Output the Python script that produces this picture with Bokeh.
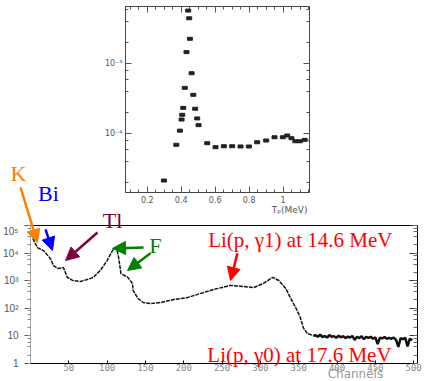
import numpy as np
from bokeh.plotting import figure
from bokeh.models import (Range1d, LinearAxis, LogAxis, FixedTicker, LogTicker,
                          CustomJSTickFormatter, Label, Arrow, NormalHead, GridBox)
from bokeh.embed import file_html
from bokeh.resources import INLINE

# ---------------- inset data: cross section vs proton energy ----------------
tp_mev = [0.298, 0.371, 0.392, 0.402, 0.406, 0.412, 0.421, 0.431, 0.441, 0.447,
          0.451, 0.461, 0.471, 0.482, 0.494, 0.502, 0.553, 0.602, 0.651, 0.700,
          0.749, 0.798, 0.847, 0.900, 0.949, 0.998, 1.024, 1.049, 1.072, 1.098, 1.127]
sigma_barn = [2.15e-5, 6.97e-5, 1.11e-4, 1.60e-4, 1.87e-4, 2.35e-4, 4.54e-4, 1.47e-3,
              5.77e-3, 4.48e-3, 2.28e-3, 7.34e-4, 3.61e-4, 2.28e-4, 1.66e-4, 1.33e-4,
              7.34e-5, 6.44e-5, 6.65e-5, 6.65e-5, 6.59e-5, 6.59e-5, 7.58e-5, 8.02e-5,
              8.93e-5, 8.93e-5, 9.46e-5, 8.65e-5, 7.83e-5, 7.83e-5, 8.20e-5]
inset_x_ticks = [0.2, 0.4, 0.6, 0.8, 1.0]

# ---------------- main spectrum: counts vs channel ----------------
channels = [3, 9, 17, 26, 30, 36, 43, 48, 55, 65, 74, 82, 91, 100, 107, 111, 113, 115,
            118, 127, 133, 134, 140, 147, 157, 170, 187, 205, 222, 239, 261, 278, 291,
            304, 316, 324, 333, 339, 346, 352, 356, 361, 369,
            372, 375, 378, 381, 384, 387, 390, 393, 396, 399, 402, 405, 408, 411, 414,
            417, 420, 423, 426, 429, 432, 435, 438, 441, 444, 447, 450, 453, 456, 459,
            462, 465, 468, 471, 474, 477, 480, 483, 486, 489, 492, 495, 498]
counts = [33900, 15800, 12300, 6300, 3550, 2750, 3000, 1320, 1020, 930, 1100, 1320, 2340,
          5370, 12300, 15800, 12300, 6900, 1820, 1320, 790, 440, 230, 162, 148, 162, 209,
          245, 347, 479, 676, 617, 562, 794, 1320, 1020, 525, 245, 107, 47, 20, 12.3, 10.2,
          10.5, 9.3, 11.0, 9.1, 10.0, 8.7, 10.7, 9.3, 9.8, 8.5, 10.2, 8.9, 9.8, 8.3, 9.5,
          8.7, 10.0, 7.1, 9.3, 8.3, 9.8, 7.6, 9.1, 8.5, 9.3, 7.9, 8.9, 5.0, 8.7, 8.1,
          9.1, 7.8, 8.5, 7.9, 8.7, 7.2, 4.0, 8.3, 7.6, 8.5, 4.2, 7.9, 6.9]
main_x_ticks = [50, 100, 150, 200, 250, 300, 350, 400, 450, 500]
TAIL_FROM = 369   # channel where the flat, noisy tail begins

log_fmt = CustomJSTickFormatter(code="""
const sup = {"0":"\u2070","1":"\u00b9","2":"\u00b2","3":"\u00b3","4":"\u2074",
             "5":"\u2075","6":"\u2076","7":"\u2077","8":"\u2078","9":"\u2079","-":"\u207b"};
const e = Math.round(Math.log10(tick));
if (e == 0) return "1";
if (e == 1) return "10";
return "10" + String(e).split("").map(c => sup[c]).join("");
""")
blank_fmt = CustomJSTickFormatter(code="return '';")

# ---------------- geometry (pixels) ----------------
W, H = 432, 381
TOP_H = 225                      # height of the inset strip
MAIN_L, MAIN_R, MAIN_B = 30, 417, 363   # main frame edges in page pixels
X0, X1 = 0, 505                  # main x range
LY0, LY1 = 0, 5                  # main y range, log10

# ================= inset figure =================
p1 = figure(width=W, height=TOP_H, x_range=Range1d(0.072, 1.155),
            y_range=Range1d(1.45e-5, 6.6e-3), y_axis_type="log",
            output_backend="svg", toolbar_location=None, frame_align=False,
            min_border_left=125, min_border_right=123, min_border_top=6,
            min_border_bottom=33)
p1.xgrid.visible = False
p1.ygrid.visible = False
p1.outline_line_color = "#444444"

minor_x = [round(v, 3) for v in np.arange(0.1, 1.16, 0.05)]
ax = p1.xaxis[0]
ax.ticker = FixedTicker(ticks=inset_x_ticks, minor_ticks=minor_x)
ax.formatter = CustomJSTickFormatter(code="return Math.abs(tick-1)<1e-6 ? '1' : tick.toFixed(1);")
ay = p1.yaxis[0]
ay.ticker = LogTicker()
ay.formatter = log_fmt
for a in (ax, ay):
    a.major_tick_in = 6
    a.major_tick_out = 0
    a.minor_tick_in = 3
    a.minor_tick_out = 0
    a.axis_line_color = "#444444"
    a.major_tick_line_color = "#555555"
    a.minor_tick_line_color = "#555555"
    a.major_label_text_font_size = "8px"
    a.major_label_text_color = "#555555"
    a.major_label_text_font = "DejaVu Sans"
    a.major_label_standoff = 3

top1 = LinearAxis(ticker=FixedTicker(ticks=inset_x_ticks, minor_ticks=minor_x),
                  formatter=blank_fmt, major_label_standoff=0,
                  major_tick_in=6, major_tick_out=0, minor_tick_in=3, minor_tick_out=0,
                  axis_line_color="#444444", major_tick_line_color="#555555",
                  minor_tick_line_color="#555555")
right1 = LogAxis(ticker=LogTicker(), formatter=blank_fmt,
                 major_label_standoff=0, major_tick_in=6, major_tick_out=0,
                 minor_tick_in=3, minor_tick_out=0, axis_line_color="#444444",
                 major_tick_line_color="#555555", minor_tick_line_color="#555555")
p1.add_layout(top1, "above")
p1.add_layout(right1, "right")

p1.rect(x=tp_mev, y=sigma_barn, width=5, height=3, width_units="screen",
        height_units="screen", fill_color="#222222", line_color="#222222")

# ================= main spectrum figure =================
p2 = figure(width=W, height=H - TOP_H, x_range=Range1d(X0, X1),
            y_range=Range1d(10 ** LY0, 10 ** LY1), y_axis_type="log",
            output_backend="svg", toolbar_location=None, frame_align=False,
            min_border_top=0, min_border_left=MAIN_L, min_border_right=W - MAIN_R,
            min_border_bottom=H - MAIN_B)
p2.xgrid.visible = False
p2.ygrid.visible = False
p2.outline_line_color = "black"

bx = p2.xaxis[0]
bx.ticker = FixedTicker(ticks=main_x_ticks)
bx.major_tick_in = 3
bx.major_tick_out = 0
bx.minor_tick_in = 0
bx.minor_tick_out = 0
bx.axis_line_color = "black"
bx.major_label_text_font_size = "9px"
bx.major_label_text_color = "#888888"
bx.major_label_text_font = "DejaVu Sans Mono"
bx.major_label_standoff = 0

ly = p2.yaxis[0]
ly.ticker = LogTicker()
ly.formatter = log_fmt
ly.major_tick_out = 6
ly.major_tick_in = 0
ly.minor_tick_out = 3
ly.minor_tick_in = 0
ly.axis_line_color = "#aaaaaa"
ly.major_tick_line_color = "#555555"
ly.minor_tick_line_color = "#888888"
ly.major_label_text_font_size = "10px"
ly.major_label_text_color = "#555555"
ly.major_label_standoff = 6

right2 = LogAxis(ticker=LogTicker(), formatter=blank_fmt,
                 major_label_standoff=0, major_tick_in=8, major_tick_out=0,
                 minor_tick_in=4, minor_tick_out=0, axis_line_color="black",
                 major_tick_line_color="#333333", minor_tick_line_color="#666666")
p2.add_layout(right2, "right")

k = channels.index(TAIL_FROM)
p2.line(x=channels[:k + 1], y=counts[:k + 1], line_color="#111111", line_width=1.5,
        line_dash="4 1")
p2.line(x=channels[k:], y=counts[k:], line_color="#111111", line_width=2.5)

# ================= annotation overlay (same data mapping as the spectrum) ============
cpp = (X1 - X0) / (MAIN_R - MAIN_L)          # channels per pixel
dpp = (LY1 - LY0) / (MAIN_B - TOP_H)         # decades per pixel
y_lo = 10 ** (LY0 - (H - MAIN_B) * dpp)
p3 = figure(width=W, height=H,
            x_range=Range1d(X0 - MAIN_L * cpp, X1 + (W - MAIN_R) * cpp),
            y_range=Range1d(y_lo, 10 ** (LY1 + TOP_H * dpp)),
            y_axis_type="log", x_axis_location=None, y_axis_location=None,
            output_backend="svg", toolbar_location=None, frame_align=False,
            min_border=0, min_border_left=0, min_border_right=0, min_border_top=0,
            min_border_bottom=0)
p3.xgrid.visible = False
p3.ygrid.visible = False
p3.outline_line_color = None
p3.background_fill_alpha = 0
p3.border_fill_alpha = 0

SERIF = "Liberation Serif"


def note(text, x, y, color, size="22px"):
    p3.add_layout(Label(x=x, y=y, text=text, text_align="center", text_baseline="middle",
                        text_font=SERIF, text_font_size=size, text_color=color))


def arrow(x0, y0, x1, y1, color):
    p3.add_layout(Arrow(end=NormalHead(size=13, fill_color=color, line_color=color),
                        x_start=x0, y_start=y0, x_end=x1, y_end=y1,
                        line_color=color, line_width=2.5))


ORANGE, BLUE, MAROON, GREEN, RED = "#FF8000", "#0000FF", "#800040", "#008000", "#FF0000"

note("K", -15.7, 7.6e6, ORANGE)
arrow(-13, 2.4e6, 9, 2.4e4, ORANGE)
note("Bi", 23.5, 1.45e6, BLUE)
arrow(19.6, 7.2e4, 28.7, 1.25e4, BLUE)
note("Tl", 107, 1.52e5, MAROON)
arrow(87.4, 5.6e4, 45.7, 5.4e3, MAROON)
note("F", 163, 1.9e4, GREEN)
arrow(147.5, 1.6e4, 107, 1.48e4, GREEN)
arrow(156.6, 9.8e3, 126.6, 2.35e3, GREEN)
note("Li(p, \u03b31) at 14.6 MeV", 352, 2.88e4, RED, "21px")
arrow(270, 9.8e3, 261, 1.02e3, RED)
note("Li(p, \u03b30) at 17.6 MeV", 351, 1.95, RED, "21px")

p3.add_layout(Label(x=424, y=y_lo, y_offset=1, text="Channels", text_align="center",
                    text_baseline="bottom", text_font="DejaVu Sans",
                    text_font_size="12px", text_color="#999999"))
p3.add_layout(Label(x=361.5, y=3.5e5, text="T\u209a(MeV)", text_align="right",
                    text_baseline="middle", text_font="DejaVu Sans",
                    text_font_size="9px", text_color="#555555"))

layout = GridBox(children=[(p1, 0, 0), (p2, 1, 0), (p3, 0, 0, 2, 1)], spacing=0)
open("out.html", "w").write(file_html(layout, INLINE))
